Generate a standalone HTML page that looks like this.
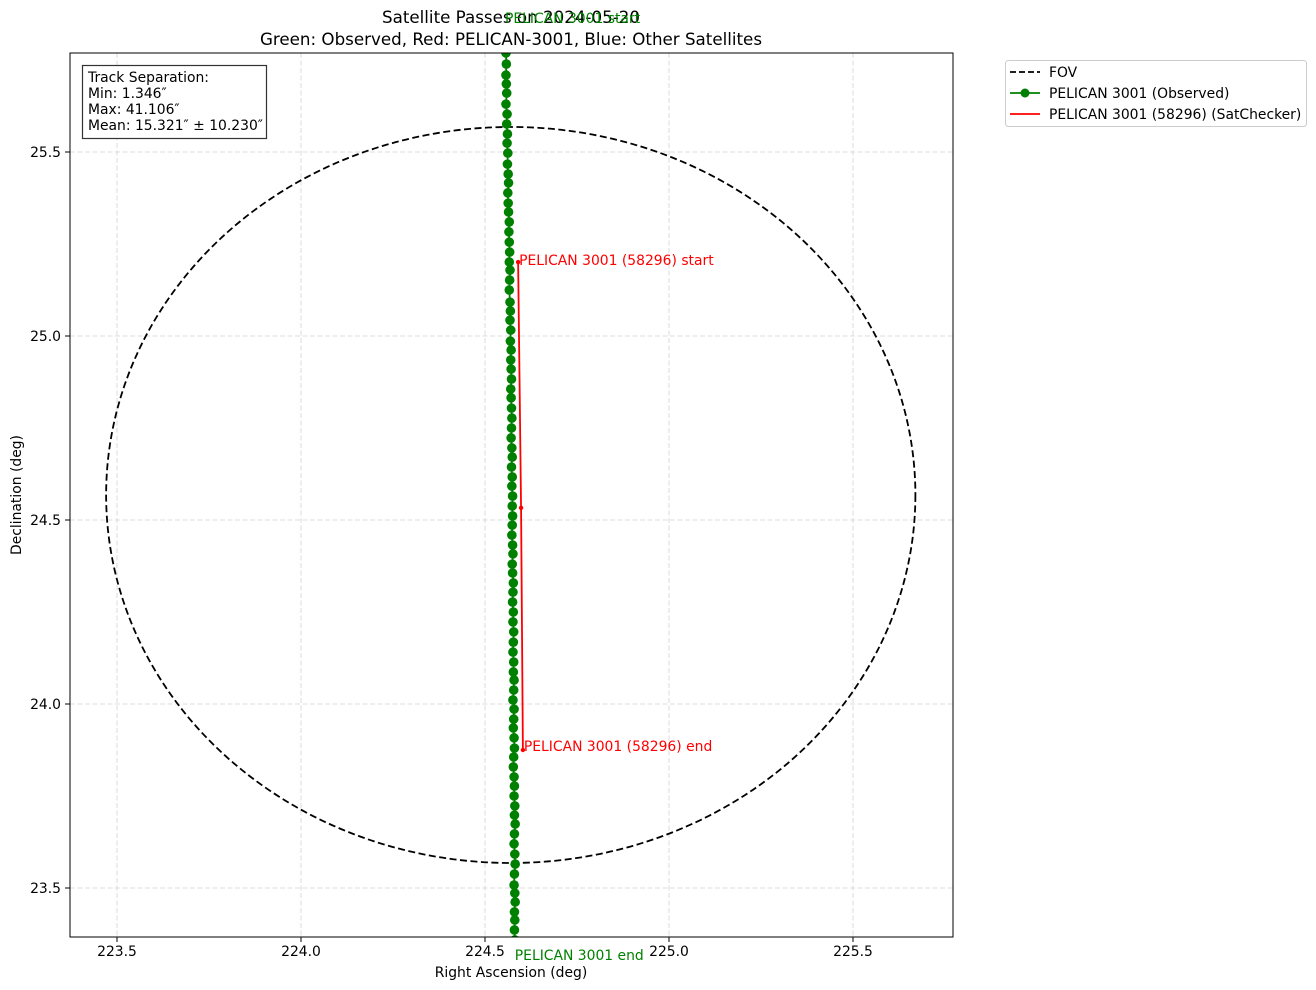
<!DOCTYPE html>
<html><head><meta charset="utf-8"><style>
html,body{margin:0;padding:0;background:#fff}
svg{display:block;font-family:"DejaVu Sans","Liberation Sans",sans-serif}
</style></head><body>
<svg id="chart" width="1316" height="990" viewBox="0 0 1316 990">
<defs><clipPath id="clip"><rect x="70" y="53" width="883" height="884"/></clipPath></defs>
<g id="grid"></g>
<g id="plot" clip-path="url(#clip)"></g>
<rect x="70" y="53" width="883" height="884" fill="none" stroke="#000" stroke-width="1"/>
<g id="ticks"></g>
<text x="511" y="23" text-anchor="middle" font-size="16.7">Satellite Passes on 2024-05-20</text>
<text x="511" y="45" text-anchor="middle" font-size="16.7">Green: Observed, Red: PELICAN-3001, Blue: Other Satellites</text>
<text x="511" y="977" text-anchor="middle" font-size="13.9">Right Ascension (deg)</text>
<text transform="translate(21,495) rotate(-90)" text-anchor="middle" font-size="13.9">Declination (deg)</text>
<g>
<rect x="82.5" y="65.5" width="184" height="73" fill="#fff" stroke="#333" stroke-width="1.2"/>
<text x="88" y="82" font-size="13.9">Track Separation:</text>
<text x="88" y="98" font-size="13.9">Min: 1.346″</text>
<text x="88" y="114" font-size="13.9">Max: 41.106″</text>
<text x="88" y="130" font-size="13.9">Mean: 15.321″ ± 10.230″</text>
</g>
<g>
<rect x="1005.5" y="60.5" width="301" height="66" rx="3" fill="#fff" stroke="#ccc"/>
<line x1="1010" y1="72" x2="1040" y2="72" stroke="#000" stroke-width="1.8" stroke-dasharray="6,3"/>
<text x="1049" y="77" font-size="13.9">FOV</text>
<line x1="1010" y1="93" x2="1040" y2="93" stroke="green" stroke-width="1.8"/>
<circle cx="1025" cy="93" r="4.5" fill="green"/>
<text x="1049" y="98" font-size="13.9">PELICAN 3001 (Observed)</text>
<line x1="1010" y1="114" x2="1040" y2="114" stroke="red" stroke-width="1.8"/>
<text x="1049" y="119" font-size="13.9">PELICAN 3001 (58296) (SatChecker)</text>
</g>
</svg>
<script>
const xTicks=[223.5,224.0,224.5,225.0,225.5];
const yTicks=[23.5,24.0,24.5,25.0,25.5];
const fovCenter=[224.57,24.568];
const fovRadius=1.0;
const obsDec=[25.796,25.769,25.739,25.709,25.685,25.660,25.630,25.603,25.576,25.549,25.524,25.497,25.467,25.440,25.416,25.389,25.361,25.337,25.310,25.283,25.255,25.228,25.201,25.179,25.152,25.125,25.092,25.068,25.043,25.016,24.986,24.962,24.935,24.910,24.883,24.856,24.832,24.804,24.777,24.750,24.723,24.696,24.671,24.644,24.617,24.592,24.565,24.538,24.511,24.486,24.459,24.432,24.408,24.380,24.356,24.329,24.304,24.277,24.250,24.223,24.196,24.168,24.141,24.114,24.087,24.065,24.038,24.011,23.986,23.959,23.935,23.908,23.880,23.856,23.829,23.802,23.777,23.750,23.723,23.698,23.674,23.647,23.620,23.592,23.565,23.538,23.508,23.486,23.462,23.435,23.413,23.386,23.359];
const obsRA=[224.557,224.557,224.558,224.557,224.558,224.559,224.557,224.560,224.559,224.561,224.560,224.562,224.561,224.563,224.564,224.562,224.563,224.564,224.566,224.565,224.566,224.567,224.566,224.568,224.567,224.566,224.568,224.569,224.568,224.570,224.569,224.571,224.570,224.571,224.572,224.570,224.571,224.572,224.573,224.572,224.571,224.573,224.574,224.572,224.574,224.573,224.575,224.574,224.575,224.574,224.573,224.575,224.576,224.574,224.575,224.577,224.576,224.575,224.577,224.576,224.578,224.577,224.576,224.578,224.577,224.579,224.578,224.576,224.579,224.578,224.577,224.579,224.580,224.578,224.577,224.579,224.580,224.579,224.581,224.580,224.582,224.580,224.579,224.581,224.582,224.580,224.579,224.581,224.582,224.580,224.581,224.580,224.581];
const predRA=[224.590,224.598,224.603];
const predDec=[25.201,24.533,23.875];
const NS='http://www.w3.org/2000/svg';
const X=v=>117+(v-223.5)*368;
const Y=v=>152+(25.5-v)*368;
function mk(tag,attrs,parent){const e=document.createElementNS(NS,tag);for(const k in attrs)e.setAttribute(k,attrs[k]);parent.appendChild(e);return e;}
const grid=document.getElementById('grid'),plot=document.getElementById('plot'),ticks=document.getElementById('ticks');
xTicks.forEach(t=>{const x=X(t);
 const g=mk('line',{x1:x,x2:x,y1:53,y2:937,stroke:'#d3d3d3','stroke-dasharray':'5,2.5','stroke-width':0.8},grid);
 
 
 mk('line',{x1:x,x2:x,y1:937,y2:942,stroke:'#000'},ticks);
 const tx=mk('text',{x:x,y:956,'text-anchor':'middle','font-size':13.9},ticks);tx.textContent=t.toFixed(1);
 
 });
yTicks.forEach(t=>{const y=Y(t);
 const g=mk('line',{x1:70,x2:953,y1:y,y2:y,stroke:'#d3d3d3','stroke-dasharray':'5,2.5','stroke-width':0.8},grid);
 
 
 mk('line',{x1:65,x2:70,y1:y,y2:y,stroke:'#000'},ticks);
 const tx=mk('text',{x:61,y:y+5,'text-anchor':'end','font-size':13.9},ticks);tx.textContent=t.toFixed(1);
 
 });
const rx=fovRadius/Math.cos(fovCenter[1]*Math.PI/180)*368, ry=fovRadius*368;
const fov=mk('ellipse',{cx:X(fovCenter[0]),cy:Y(fovCenter[1]),rx:rx,ry:ry,fill:'none',stroke:'#000','stroke-width':1.8,'stroke-dasharray':'7,3.5'},plot);


const op=mk('polyline',{points:obsRA.map((r,i)=>X(r)+','+Y(obsDec[i])).join(' '),fill:'none',stroke:'green','stroke-width':1.8},plot);


obsRA.forEach((r,i)=>{const c=mk('circle',{cx:X(r),cy:Y(obsDec[i]),r:4.8,fill:'green'},plot);
 
 });
const pp=mk('polyline',{points:predRA.map((r,i)=>X(r)+','+Y(predDec[i])).join(' '),fill:'none',stroke:'red','stroke-width':1.8},plot);


predRA.forEach((r,i)=>{const c=mk('circle',{cx:X(r),cy:Y(predDec[i]),r:2.2,fill:'red'},plot);
 
 });
const svg=document.getElementById('chart');
function lbl(txt,x,y,col,name){const t=mk('text',{x:x,y:y,'font-size':13.9,fill:col},svg);t.textContent=txt;
 
 }
lbl('PELICAN 3001 (58296) start',X(predRA[0])+1,Y(predDec[0])+3,'red','pred-start-label');
lbl('PELICAN 3001 (58296) end',X(predRA[2])+1,Y(predDec[2])+1,'red','pred-end-label');
lbl('PELICAN 3001 start',X(obsRA[0])-1,23,'green','obs-start-label');
lbl('PELICAN 3001 end',X(obsRA[obsRA.length-1]),960,'green','obs-end-label');
</script>
</body></html>
